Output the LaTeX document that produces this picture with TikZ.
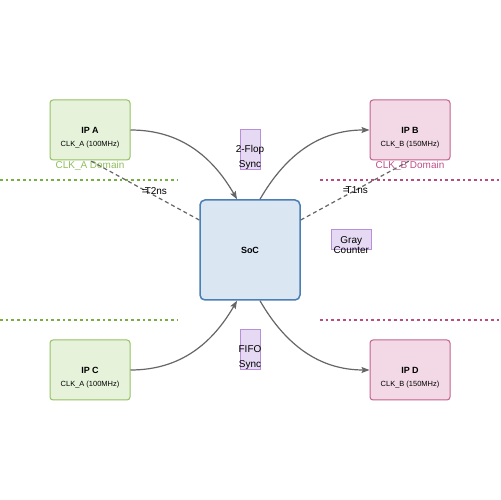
\documentclass[tikz,border=0pt]{standalone}
\usepackage{fontspec}
\setmainfont{Liberation Sans}
\usetikzlibrary{positioning, arrows.meta}

\definecolor{gfill}{HTML}{E6F2DA}
\definecolor{gline}{HTML}{95C264}
\definecolor{gtext}{HTML}{8DBF5A}
\definecolor{gdot}{HTML}{78AE46}
\definecolor{pfill}{HTML}{F2D9E5}
\definecolor{pline}{HTML}{C3628F}
\definecolor{ptext}{HTML}{C0508A}
\definecolor{pdot}{HTML}{BA4B81}
\definecolor{sfill}{HTML}{DAE6F2}
\definecolor{sline}{HTML}{4A7EB6}
\definecolor{vfill}{HTML}{E6D9F3}
\definecolor{vline}{HTML}{B88FD8}
\definecolor{wire}{HTML}{666666}

\tikzset{
  ipbox/.style={rounded corners=3bp, line width=1bp, minimum width=80bp, minimum height=60bp, inner sep=0pt, font=\fontsize{9}{10}\selectfont\bfseries},
  ipA/.style={ipbox, draw=gline, fill=gfill},
  ipB/.style={ipbox, draw=pline, fill=pfill},
  clk/.style={inner sep=0pt, font=\fontsize{7.5}{9}\selectfont},
  domA/.style={inner sep=1bp, text=gtext, font=\fontsize{10}{12}\selectfont},
  domB/.style={inner sep=1bp, text=ptext, font=\fontsize{10}{12}\selectfont},
  syncbox/.style={draw=vline, fill=vfill, line width=1bp, inner sep=0pt},
  synctext/.style={inner sep=0pt, align=center},
  flow/.style={-{Stealth[length=8bp, width=6bp, inset=1.5bp]}, draw=wire, line width=1.2bp},
  skew/.style={draw=wire, line width=1.2bp, dash pattern=on 4bp off 3bp},
  domline/.style={line width=2bp, dash pattern=on 2.7bp off 3bp}
}

\begin{document}
\begin{tikzpicture}[x=1bp, y=1bp]
        \useasboundingbox[fill=white] (0,0) rectangle (500,500);

        % clock domain borders
        \draw[domline, gdot] (0,320) -- (178,320);
        \draw[domline, gdot] (0,180) -- (178,180);
        \draw[domline, pdot] (320,320) -- (500,320);
        \draw[domline, pdot] (320,180) -- (500,180);

        \node[ipA](ipa) at (90,370){IP A};
        \node[ipB](ipb) at (410,370){IP B};
        \node[ipA](ipc) at (90,130){IP C};
        \node[ipB](ipd) at (410,130){IP D};
        \node[clk](clka) at ([yshift=-15bp]ipa.center){CLK\_A (100MHz)};
        \node[clk](clkb) at ([yshift=-15bp]ipb.center){CLK\_B (150MHz)};
        \node[clk](clkc) at ([yshift=-15bp]ipc.center){CLK\_A (100MHz)};
        \node[clk](clkd) at ([yshift=-15bp]ipd.center){CLK\_B (150MHz)};
        \node[domA](doma)[below = 0pt of ipa]{CLK\_A Domain};
        \node[domB](domb)[below = 0pt of ipb]{CLK\_B Domain};

        \node[rounded corners=5bp, draw=sline, fill=sfill, line width=1.5bp, minimum size=100bp,
              inner sep=0pt, font=\fontsize{9}{10}\selectfont\bfseries](soc) at (250,250){SoC};

        \node[syncbox, minimum width=20bp, minimum height=40bp](flop) at (250,350){};
        \node[syncbox, minimum width=40bp, minimum height=20bp](gray)[right = 30bp of soc.east, yshift=10bp]{};
        \node[syncbox, minimum width=20bp, minimum height=40bp](fifo) at (250,150){};
        \node[synctext, font=\fontsize{10}{15}\selectfont](flopt) at ([yshift=-7.5bp]flop.center){2-Flop\\Sync};
        \node[synctext, font=\fontsize{10}{10}\selectfont](grayt) at ([yshift=-5bp]gray.center){Gray\\Counter};
        \node[synctext, font=\fontsize{10}{15}\selectfont](fifot) at ([yshift=-7.5bp]fifo.center){FIFO\\Sync};

        \coordinate (socnw) at ([xshift=-13bp]soc.north);
        \coordinate (socne) at ([xshift=10bp]soc.north);
        \coordinate (socsw) at ([xshift=-13bp]soc.south);
        \coordinate (socse) at ([xshift=10bp]soc.south);
        \coordinate (socwl) at ([yshift=30bp]soc.west);
        \coordinate (socel) at ([yshift=30bp]soc.east);

        \draw[flow] (ipa.east) to[out=0, in=120] (socnw);
        \draw[flow] (socne) to[out=60, in=180] (ipb.west);
        \draw[flow] (ipc.east) to[out=0, in=-120] (socsw);
        \draw[flow] (socse) to[out=-60, in=180] (ipd.west);

        \draw[skew] (socwl) -- node[pos=0.41, yshift=5bp, inner sep=0pt, font=\fontsize{10}{12}\selectfont] {=\kern-3bp T2ns} (ipa.south);
        \draw[skew] (socel) -- node[pos=0.5, inner sep=0pt, font=\fontsize{10}{12}\selectfont] {=\kern-3bp T1ns} (ipb.south);
\end{tikzpicture}
\end{document}
